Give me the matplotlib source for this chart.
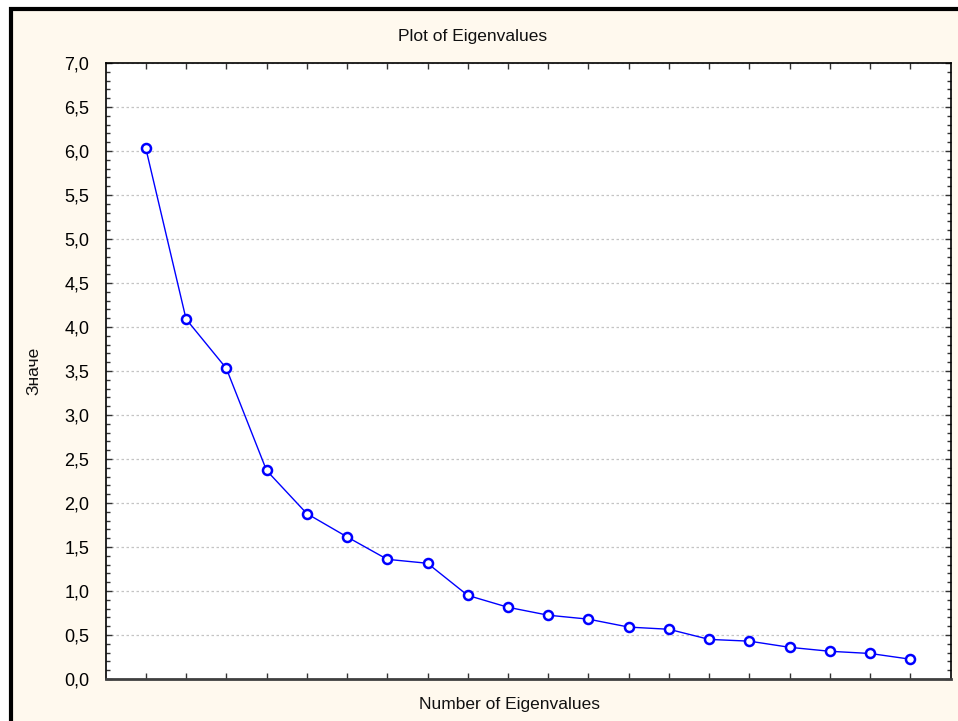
import matplotlib
matplotlib.use("Agg")
import matplotlib.pyplot as plt
from matplotlib.patches import Rectangle
from matplotlib.ticker import MultipleLocator, FuncFormatter

# Data
components = list(range(1, 21))
eigenvalues = [6.03, 4.09, 3.53, 2.37, 1.88, 1.615, 1.36, 1.315, 0.95, 0.815,
               0.725, 0.68, 0.59, 0.565, 0.45, 0.43, 0.36, 0.315, 0.29, 0.225]
title = "Plot of Eigenvalues"
xlabel = "Number of Eigenvalues"
ylabel = "Значе"

plt.rcParams['font.family'] = ['Liberation Sans', 'DejaVu Sans']

W, H = 958, 721
fig = plt.figure(figsize=(W / 100, H / 100), dpi=100)
fig.patch.set_facecolor('white')

# cream panel with black border (top/left visible)
bg = Rectangle((10.5 / W, -0.05), 1.2, (H - 9.5) / H + 0.05,
               transform=fig.transFigure, facecolor='#FFF9EE',
               edgecolor='black', linewidth=3, zorder=-10)
fig.patches.append(bg)

left, right, top, bottom = 106, 951, 63, 679
ax = fig.add_axes([left / W, (H - bottom) / H, (right - left) / W, (bottom - top) / H])
ax.set_zorder(1)
ax.set_facecolor('white')

ax.plot(components, eigenvalues, color='#0000FF', linewidth=1.0,
        marker='o', markersize=6.5, markerfacecolor='white',
        markeredgecolor='#0000FF', markeredgewidth=1.8, zorder=3)

ax.set_xlim(0.01, 21.01)
ax.set_ylim(0, 7)
ax.set_xticks(components)
ax.set_xticklabels([])
ax.yaxis.set_major_locator(MultipleLocator(0.5))
ax.yaxis.set_minor_locator(MultipleLocator(0.1))
ax.yaxis.set_major_formatter(FuncFormatter(lambda v, p: f"{v:.1f}".replace('.', ',')))

ax.tick_params(axis='both', which='major', direction='in', length=4, width=1,
               color='#333333', top=True, right=True, labelsize=13, pad=12)
ax.tick_params(axis='y', which='minor', direction='in', length=3, width=1,
               color='#333333', right=True)
ax.tick_params(axis='x', which='major', pad=4)

ax.grid(axis='y', which='major', linestyle=(0, (2, 2)), color='#c4c4c4', linewidth=0.9)
ax.set_axisbelow(True)

for s in ax.spines.values():
    s.set_color('black')
    s.set_linewidth(1.2)
ax.spines['bottom'].set_color('#404040')
ax.spines['bottom'].set_linewidth(2)

fig.text(473 / W, 1 - 36 / H, title, ha='center', va='center', fontsize=12.5, color='#111111')
fig.text(510 / W, 1 - 704 / H, xlabel, ha='center', va='center', fontsize=12.5, color='#111111')
fig.text(34 / W, 1 - 371 / H, ylabel, ha='center', va='center', rotation=90,
         fontsize=12.5, color='#111111')

fig.savefig('out.png', dpi=100)
